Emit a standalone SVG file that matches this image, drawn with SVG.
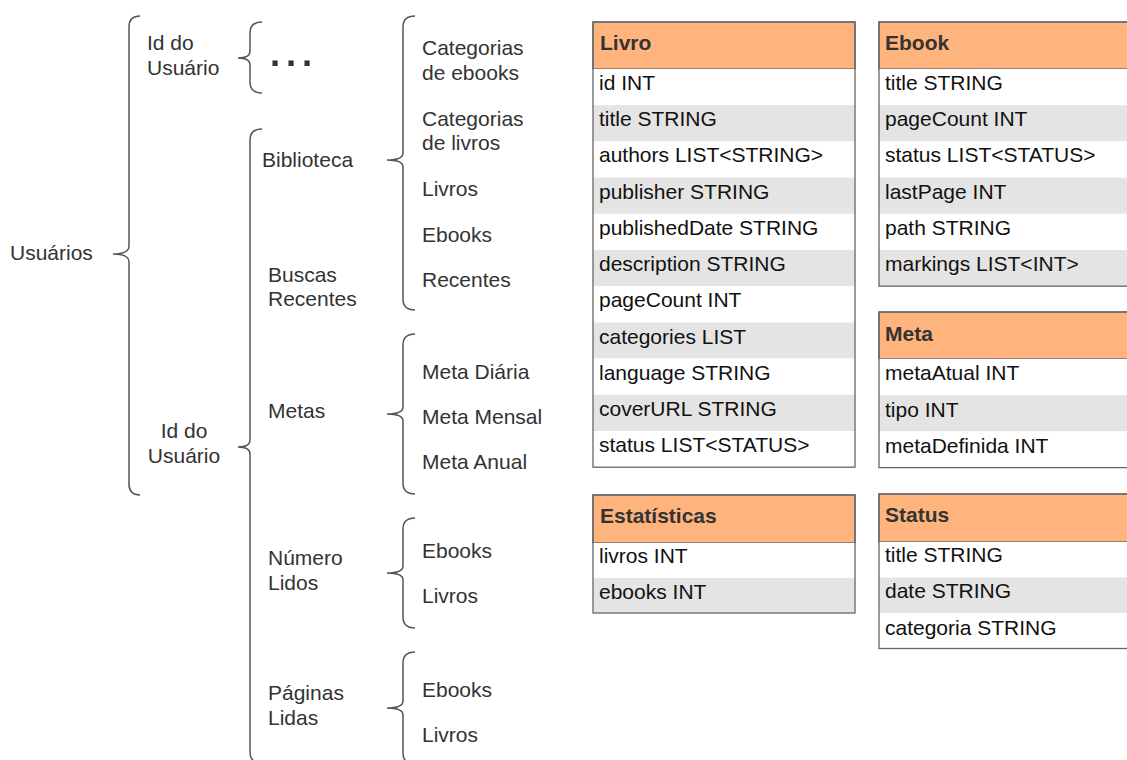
<svg xmlns="http://www.w3.org/2000/svg" width="1127" height="760" viewBox="0 0 1127 760">
<style>
.t{font-family:"Liberation Sans",Arial,sans-serif;font-size:21px;fill:#333}
.r{font-family:"Liberation Sans",Arial,sans-serif;font-size:21px;fill:#111}
.h{font-family:"Liberation Sans",Arial,sans-serif;font-size:21px;font-weight:bold;fill:#333}
.br{fill:none;stroke:#555;stroke-width:1.5}
.hd{fill:#ffb47e;stroke:#666;stroke-width:1.3}
.w{fill:#fff}
.g{fill:#e4e4e4}
.bx{fill:none;stroke:#666;stroke-width:1.3}
</style>
<rect width="1127" height="760" fill="#fff"/>
<g id="connectors">
<path class="br" d="M140,16 Q129,16 129,27 L129,246 Q129,254 113,254 Q129,254 129,262 L129,484 Q129,495 140,495"/>
<path class="br" d="M262,22 Q250,22 250,33 L250,51 Q250,58 238,58 Q250,58 250,65 L250,82 Q250,93 262,93"/>
<path class="br" d="M262,129 Q250,129 250,140 L250,440 Q250,447 238,447 Q250,447 250,454 L250,752 Q250,760 256,762"/>
<path class="br" d="M415,16 Q403,16 403,27 L403,153 Q403,160 387,160 Q403,160 403,167 L403,299 Q403,310 415,310"/>
<path class="br" d="M415,334 Q403,334 403,345 L403,407 Q403,414 387,414 Q403,414 403,421 L403,483 Q403,494 415,494"/>
<path class="br" d="M415,518 Q403,518 403,529 L403,566 Q403,573 387,573 Q403,573 403,580 L403,617 Q403,628 415,628"/>
<path class="br" d="M415,652 Q403,652 403,663 L403,701 Q403,708 387,708 Q403,708 403,715 L403,753 Q403,764 415,764"/>
</g>
<g id="usuarios"><text class="t" x="10" y="260">Usuários</text></g>
<g id="id-top"><text class="t" x="147" y="50">Id do</text><text class="t" x="147" y="75">Usuário</text></g>
<g id="dots"><text x="270" y="66" style="font-family:'Liberation Sans',Arial,sans-serif;font-size:36px;font-weight:bold;fill:#333;letter-spacing:6px">...</text></g>
<g id="id-bottom"><text class="t" x="184" y="438" text-anchor="middle">Id do</text><text class="t" x="184" y="463" text-anchor="middle">Usuário</text></g>
<g id="biblioteca"><text class="t" x="262" y="167">Biblioteca</text></g>
<g id="buscas"><text class="t" x="268" y="282">Buscas</text><text class="t" x="268" y="306">Recentes</text></g>
<g id="metas"><text class="t" x="268" y="418">Metas</text></g>
<g id="numero"><text class="t" x="268" y="565">Número</text><text class="t" x="268" y="590">Lidos</text></g>
<g id="paginas"><text class="t" x="268" y="700">Páginas</text><text class="t" x="268" y="725">Lidas</text></g>
<g id="bib-items">
<text class="t" x="422" y="55">Categorias</text><text class="t" x="422" y="80">de ebooks</text>
<text class="t" x="422" y="126">Categorias</text><text class="t" x="422" y="150">de livros</text>
<text class="t" x="422" y="196">Livros</text>
<text class="t" x="422" y="242">Ebooks</text>
<text class="t" x="422" y="287">Recentes</text>
</g>
<g id="metas-items">
<text class="t" x="422" y="379">Meta Diária</text>
<text class="t" x="422" y="424">Meta Mensal</text>
<text class="t" x="422" y="469">Meta Anual</text>
</g>
<g id="numero-items"><text class="t" x="422" y="558">Ebooks</text><text class="t" x="422" y="603">Livros</text></g>
<g id="paginas-items"><text class="t" x="422" y="697">Ebooks</text><text class="t" x="422" y="742">Livros</text></g>
<g id="livro">
<rect class="hd" x="593" y="22" width="262" height="47"/>
<text class="h" x="600" y="50">Livro</text>
<rect class="w" x="593" y="69" width="262" height="36.2"/>
<rect class="g" x="593" y="105.2" width="262" height="36.2"/>
<rect class="w" x="593" y="141.4" width="262" height="36.2"/>
<rect class="g" x="593" y="177.6" width="262" height="36.2"/>
<rect class="w" x="593" y="213.8" width="262" height="36.2"/>
<rect class="g" x="593" y="250" width="262" height="36.2"/>
<rect class="w" x="593" y="286.2" width="262" height="36.2"/>
<rect class="g" x="593" y="322.4" width="262" height="36.2"/>
<rect class="w" x="593" y="358.6" width="262" height="36.2"/>
<rect class="g" x="593" y="394.8" width="262" height="36.2"/>
<rect class="w" x="593" y="431" width="262" height="36.2"/>
<rect class="bx" x="593" y="22" width="262" height="445.2"/>
<text class="r" x="599" y="90">id INT</text>
<text class="r" x="599" y="126">title STRING</text>
<text class="r" x="599" y="162">authors LIST&lt;STRING&gt;</text>
<text class="r" x="599" y="199">publisher STRING</text>
<text class="r" x="599" y="235">publishedDate STRING</text>
<text class="r" x="599" y="271">description STRING</text>
<text class="r" x="599" y="307">pageCount INT</text>
<text class="r" x="599" y="344">categories LIST</text>
<text class="r" x="599" y="380">language STRING</text>
<text class="r" x="599" y="416">coverURL STRING</text>
<text class="r" x="599" y="452">status LIST&lt;STATUS&gt;</text>
</g>
<g id="ebook">
<rect class="hd" x="879" y="22" width="260" height="47"/>
<text class="h" x="885" y="50">Ebook</text>
<rect class="w" x="879" y="69" width="260" height="36.2"/>
<rect class="g" x="879" y="105.2" width="260" height="36.2"/>
<rect class="w" x="879" y="141.4" width="260" height="36.2"/>
<rect class="g" x="879" y="177.6" width="260" height="36.2"/>
<rect class="w" x="879" y="213.8" width="260" height="36.2"/>
<rect class="g" x="879" y="250" width="260" height="36.2"/>
<rect class="bx" x="879" y="22" width="260" height="264.2"/>
<text class="r" x="885" y="90">title STRING</text>
<text class="r" x="885" y="126">pageCount INT</text>
<text class="r" x="885" y="162">status LIST&lt;STATUS&gt;</text>
<text class="r" x="885" y="199">lastPage INT</text>
<text class="r" x="885" y="235">path STRING</text>
<text class="r" x="885" y="271">markings LIST&lt;INT&gt;</text>
</g>
<g id="meta">
<rect class="hd" x="879" y="312" width="260" height="47"/>
<text class="h" x="885" y="341">Meta</text>
<rect class="w" x="879" y="359" width="260" height="36.2"/>
<rect class="g" x="879" y="395.2" width="260" height="36.2"/>
<rect class="w" x="879" y="431.4" width="260" height="36.2"/>
<rect class="bx" x="879" y="312" width="260" height="155.6"/>
<text class="r" x="885" y="380">metaAtual INT</text>
<text class="r" x="885" y="417">tipo INT</text>
<text class="r" x="885" y="453">metaDefinida INT</text>
</g>
<g id="estatisticas">
<rect class="hd" x="593" y="495" width="262" height="48"/>
<text class="h" x="600" y="523">Estatísticas</text>
<rect class="w" x="593" y="543" width="262" height="35"/>
<rect class="g" x="593" y="578" width="262" height="35"/>
<rect class="bx" x="593" y="495" width="262" height="118"/>
<text class="r" x="599" y="563">livros INT</text>
<text class="r" x="599" y="599">ebooks INT</text>
</g>
<g id="status">
<rect class="hd" x="879" y="494" width="260" height="48"/>
<text class="h" x="885" y="522">Status</text>
<rect class="w" x="879" y="542" width="260" height="35.5"/>
<rect class="g" x="879" y="577.5" width="260" height="35.5"/>
<rect class="w" x="879" y="613" width="260" height="35.5"/>
<rect class="bx" x="879" y="494" width="260" height="154.5"/>
<text class="r" x="885" y="562">title STRING</text>
<text class="r" x="885" y="598">date STRING</text>
<text class="r" x="885" y="635">categoria STRING</text>
</g>
</svg>
